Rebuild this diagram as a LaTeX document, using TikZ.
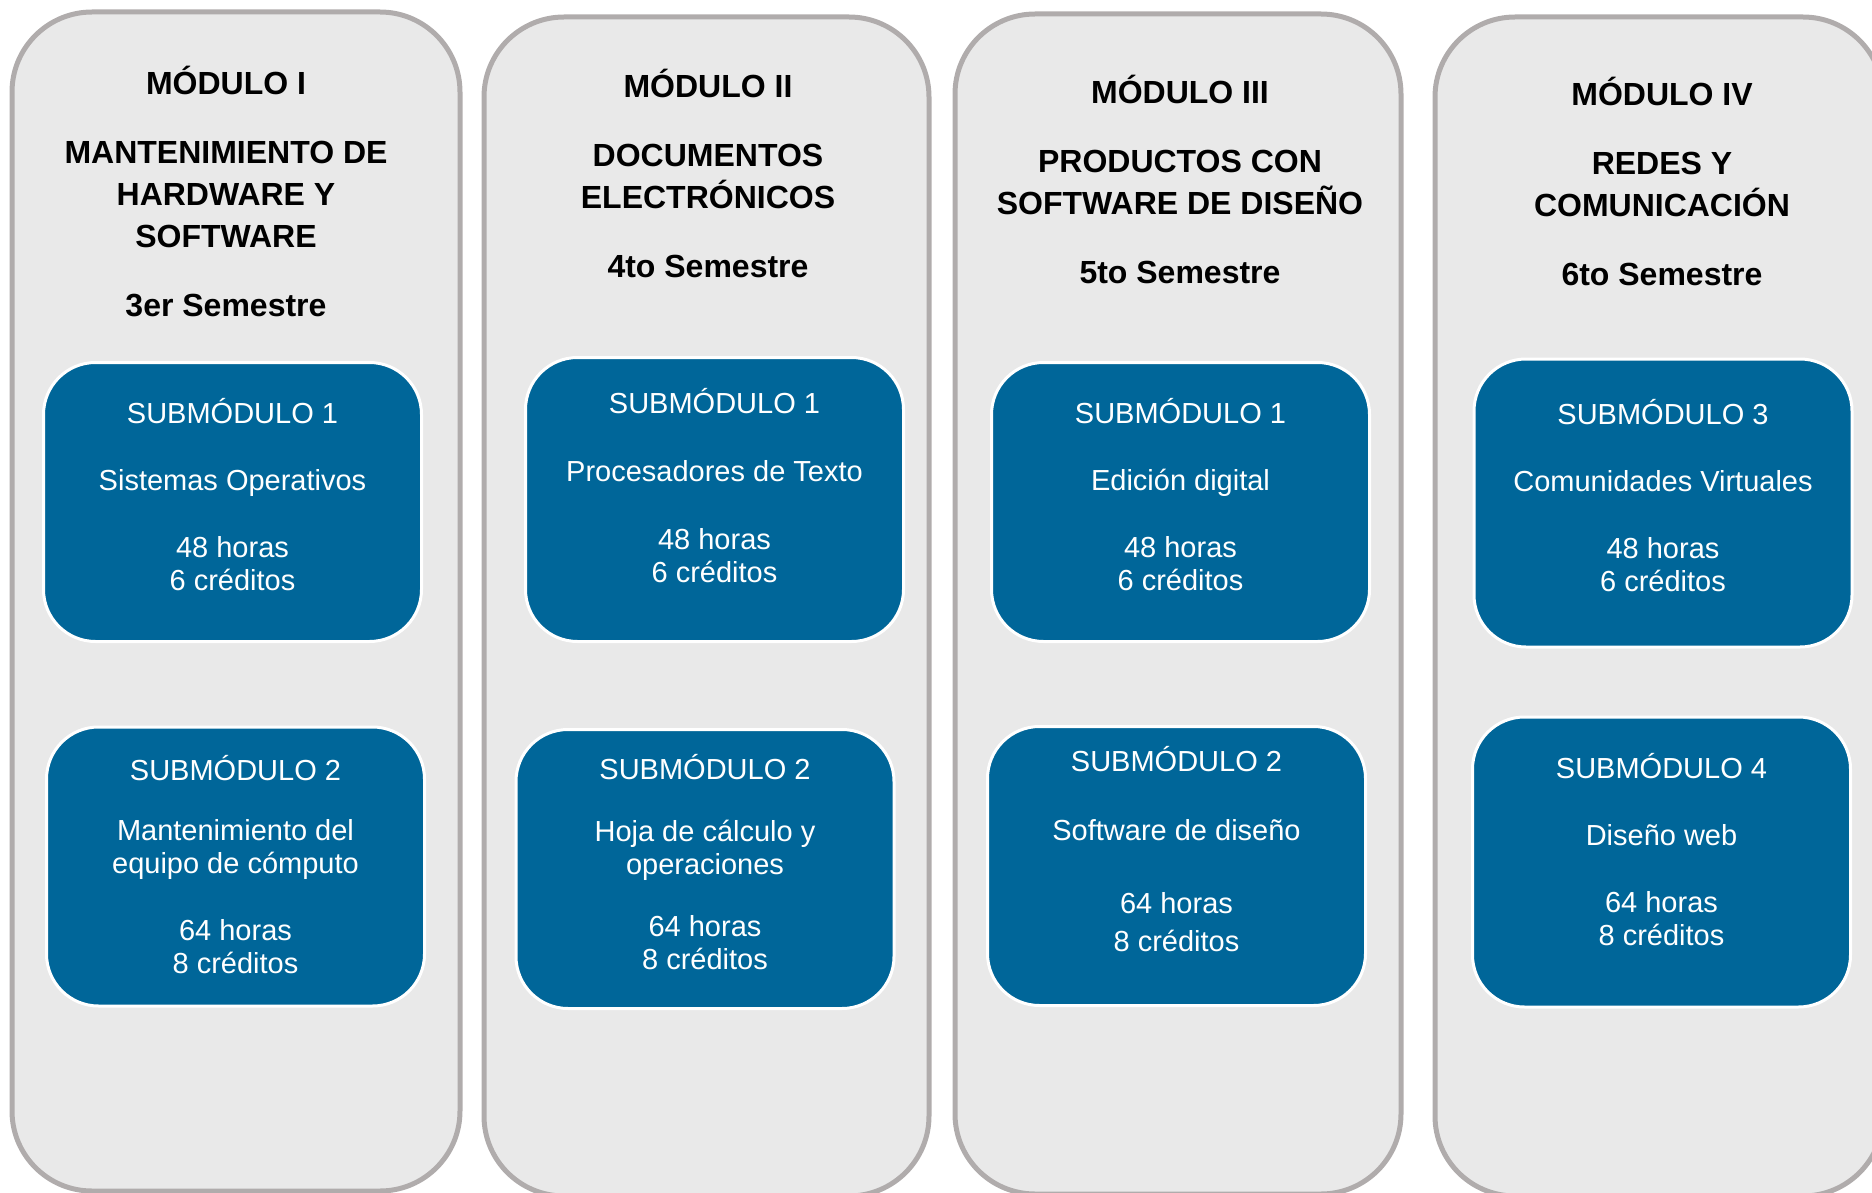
\documentclass[tikz,border=0pt]{standalone}
\usepackage{fontspec}
\setmainfont{Liberation Sans}
\definecolor{colgray}{HTML}{E9E9E9}
\definecolor{colborder}{HTML}{B0ACAC}
\definecolor{subblue}{HTML}{006699}
\newcommand\lowpad[1]{\rule[-#1]{0pt}{#1}}
\tikzset{
  modcol/.style={draw=colborder,fill=colgray,line width=5pt,rounded corners=80pt},
  modtitle/.style={anchor=north,inner sep=0pt,align=center,font=\fontsize{32}{42}\selectfont\bfseries},
  subbox/.style={draw=white,fill=subblue,line width=3pt,rounded corners=52pt,
    minimum width=378pt,minimum height=279pt,align=center,text=white,
    font=\fontsize{29}{33}\selectfont}
}
\begin{document}
\begin{tikzpicture}[x=1pt,y=-1pt]
\useasboundingbox (0,0) rectangle (1872,1193);
\draw[modcol] (12,12) rectangle (460,1191);
\draw[modcol] (484,17) rectangle (929,1196);
\draw[modcol] (955,14) rectangle (1401,1194);
\draw[modcol] (1435,17) rectangle (1883,1196);

\node[modtitle] (mod1) at (226,66) {MÓDULO I\\[27pt]MANTENIMIENTO DE\\HARDWARE Y\\SOFTWARE\\[27pt]3er Semestre};
\node[modtitle] (mod2) at (708,69) {MÓDULO II\\[27pt]DOCUMENTOS\\ELECTRÓNICOS\\[27pt]4to Semestre};
\node[modtitle] (mod3) at (1180,75) {MÓDULO III\\[27pt]PRODUCTOS CON\\SOFTWARE DE DISEÑO\\[27pt]5to Semestre};
\node[modtitle] (mod4) at (1662,77) {MÓDULO IV\\[27pt]REDES Y\\COMUNICACIÓN\\[27pt]6to Semestre};

\node[subbox] (sub11) at (232.5,502) {SUBMÓDULO 1\\[34pt]Sistemas Operativos\\[34pt]48 horas\\6 créditos\lowpad{16pt}};
\node[subbox] (sub12) at (235.5,866.5) {SUBMÓDULO 2\\[27pt]Mantenimiento del\\equipo de cómputo\\[34pt]64 horas\\8 créditos\lowpad{5pt}};
\node[subbox,minimum height=284pt] (sub21) at (714.5,499.5) {SUBMÓDULO 1\\[35pt]Procesadores de Texto\\[35pt]48 horas\\6 créditos\lowpad{28pt}};
\node[subbox] (sub22) at (705,869) {SUBMÓDULO 2\\[29pt]Hoja de cálculo y\\operaciones\\[29pt]64 horas\\8 créditos\lowpad{14pt}};
\node[subbox] (sub31) at (1180.5,502) {SUBMÓDULO 1\\[34pt]Edición digital\\[34pt]48 horas\\6 créditos\lowpad{16pt}};
\node[subbox] (sub32) at (1176.5,866) {SUBMÓDULO 2\\[36pt]Software de diseño\\[40pt]64 horas\\[5pt]8 créditos\lowpad{34pt}};
\node[subbox,minimum height=288pt] (sub41) at (1663,503) {SUBMÓDULO 3\\[34pt]Comunidades Virtuales\\[34pt]48 horas\\6 créditos\lowpad{16pt}};
\node[subbox,minimum height=290pt] (sub42) at (1661.5,862) {SUBMÓDULO 4\\[34pt]Diseño web\\[34pt]64 horas\\8 créditos\lowpad{26pt}};
\end{tikzpicture}
\end{document}
